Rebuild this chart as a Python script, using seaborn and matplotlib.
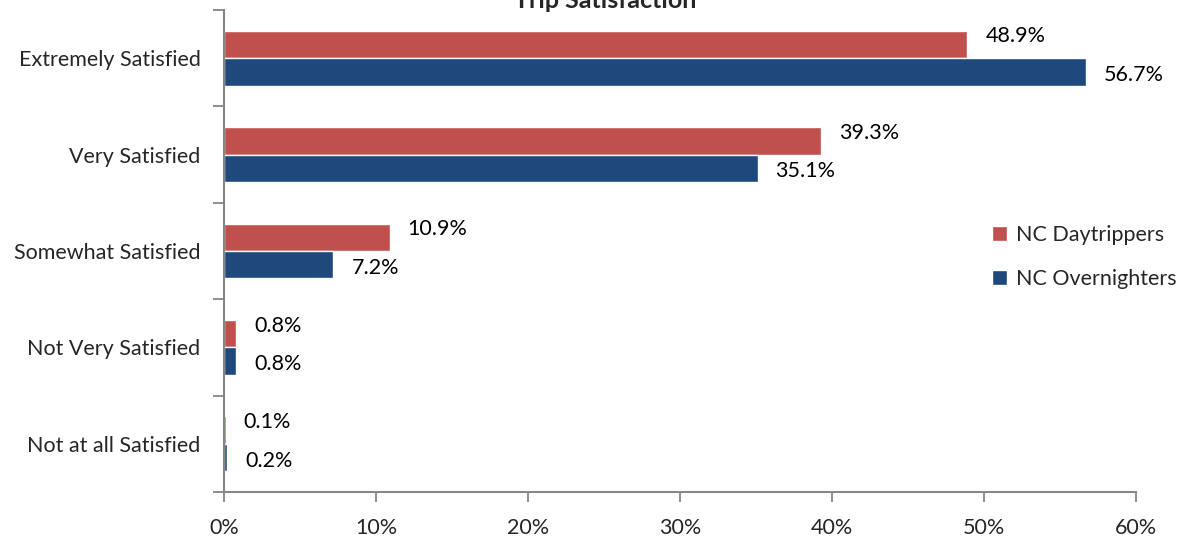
import pandas as pd
import matplotlib.pyplot as plt
import matplotlib.ticker as mticker
import seaborn as sns

CATEGORIES = ['Extremely Satisfied', 'Very Satisfied', 'Somewhat Satisfied',
              'Not Very Satisfied', 'Not at all Satisfied']
DAYTRIPPERS = [48.9, 39.3, 10.9, 0.8, 0.1]
OVERNIGHTERS = [56.7, 35.1, 7.2, 0.8, 0.2]
SERIES = ['NC Daytrippers', 'NC Overnighters']
COLORS = ['#C0504D', '#1F497D']
X_TICKS = [0, 10, 20, 30, 40, 50, 60]

sns.set_style('white')
plt.rcParams['font.family'] = ['Lato', 'DejaVu Sans']
FS = 15.5

df = pd.DataFrame({
    'category': CATEGORIES * 2,
    'value': DAYTRIPPERS + OVERNIGHTERS,
    'series': [SERIES[0]] * len(CATEGORIES) + [SERIES[1]] * len(CATEGORIES),
})

fig = plt.figure(figsize=(11.8, 5.37), dpi=100)
ax = fig.add_axes([224 / 1180, 45 / 537, 912 / 1180, 482 / 537])

sns.barplot(data=df, x='value', y='category', hue='series', orient='h',
            palette=COLORS, hue_order=SERIES, order=CATEGORIES,
            width=0.57, saturation=1, ax=ax, legend=True)

# value labels, a little above (red) / below (blue) the bar centre
for i, cont in enumerate(ax.containers):
    dy = 8 if i == 0 else -3
    for bar, val in zip(cont, [DAYTRIPPERS, OVERNIGHTERS][i]):
        y = bar.get_y() + bar.get_height() / 2
        ax.annotate(f'{val:.1f}%', xy=(bar.get_width(), y),
                    xytext=(18, dy), textcoords='offset pixels',
                    ha='left', va='center', fontsize=FS, color='black')

ax.set_xlim(0, 60)
ax.set_ylim(4.5, -0.5)
ax.set_xticks(X_TICKS)
ax.xaxis.set_major_formatter(mticker.FuncFormatter(lambda v, p: f'{v:.0f}%'))
ax.set_xlabel('')
ax.set_ylabel('')

grey = '#868686'
for side in ['top', 'right']:
    ax.spines[side].set_visible(False)
for side in ['left', 'bottom']:
    ax.spines[side].set_color(grey)
    ax.spines[side].set_linewidth(1.5)

ax.tick_params(axis='x', which='major', direction='out', length=7, width=1.3,
               color=grey, pad=12, labelsize=FS, bottom=True)
ax.tick_params(axis='y', which='major', length=0, pad=17, labelsize=FS)
ax.set_yticks([i - 0.5 for i in range(len(CATEGORIES) + 1)], minor=True)
ax.tick_params(axis='y', which='minor', direction='out', length=8, width=1.3,
               color=grey, left=True)

leg = ax.legend(loc='center left', bbox_to_anchor=(983 / 1180, 1 - 257 / 537),
                bbox_transform=fig.transFigure, frameon=False,
                fontsize=FS, handlelength=0.7, handleheight=0.7,
                handletextpad=0.45, labelspacing=1.1, borderaxespad=0)

fig.text(605 / 1180, 1 - 8 / 537, 'Trip Satisfaction', ha='center',
         va='baseline', fontsize=18, fontweight='bold')

fig.savefig('out.png', dpi=100)
